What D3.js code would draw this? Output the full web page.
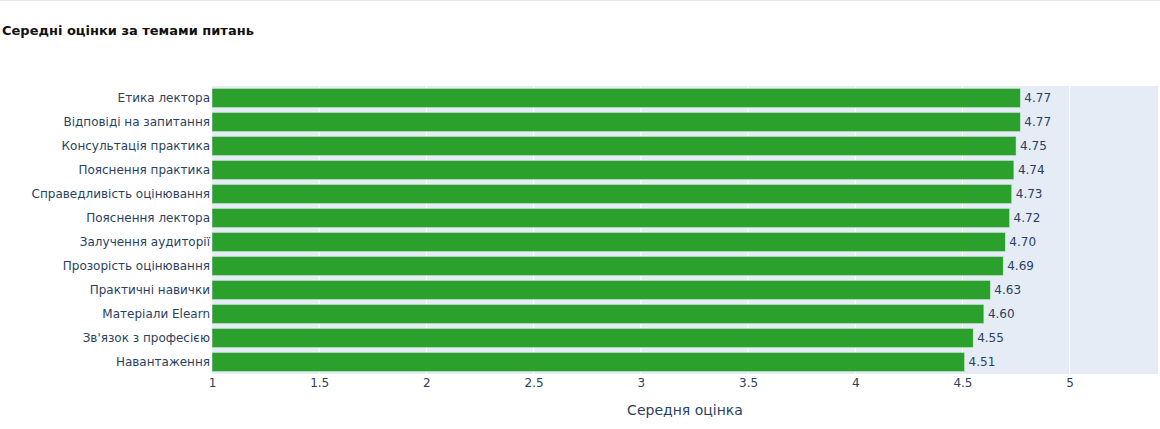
<!DOCTYPE html>
<html>
<head>
<meta charset="utf-8">
<script src="https://cdn.jsdelivr.net/npm/d3@7"></script>
<style>
  body { margin: 0; background: #fff; }
  svg { display: block; font-family: "DejaVu Sans", Verdana, sans-serif; }
</style>
</head>
<body>
<div id="chart"></div>
<script>
// data
const categories = ["Етика лектора", "Відповіді на запитання", "Консультація практика",
  "Пояснення практика", "Справедливість оцінювання", "Пояснення лектора",
  "Залучення аудиторії", "Прозорість оцінювання", "Практичні навички",
  "Матеріали Elearn", "Зв'язок з професією", "Навантаження"];
const scores = [4.77, 4.77, 4.75, 4.74, 4.73, 4.72, 4.70, 4.69, 4.63, 4.60, 4.55, 4.51];
const xTicks = [1, 1.5, 2, 2.5, 3, 3.5, 4, 4.5, 5];

const chartTitle = "Середні оцінки за темами питань";
const xTitle = "Середня оцінка";

// size & margins
var W = 1160, H = 429;
var margin = {top: 86, right: 2, bottom: 55, left: 212};
var width = W - margin.left - margin.right;
var height = H - margin.top - margin.bottom;

var svg = d3.select("#chart").append("svg")
  .attr("width", W)
  .attr("height", H);

// thin line at the very top
svg.append("line")
  .attr("x1", 0).attr("x2", W)
  .attr("y1", 0.5).attr("y2", 0.5)
  .attr("stroke", "#e8e8e8");

svg.append("text")
  .attr("x", 2)
  .attr("y", 35)
  .attr("font-size", 13)
  .attr("font-weight", "bold")
  .attr("fill", "#111")
  .text(chartTitle);

var g = svg.append("g")
  .attr("transform", "translate(" + margin.left + "," + margin.top + ")");

// scales
var xScale = d3.scaleLinear()
  .domain([1, 5.412])
  .range([0, width]);

var yScale = d3.scaleBand()
  .domain(categories)
  .range([0, height])
  .paddingInner(0.2)
  .paddingOuter(0.1);

// background
g.append("rect")
  .attr("width", width)
  .attr("height", height)
  .attr("fill", "#e5ecf6");

// grid
g.selectAll(".grid")
  .data(xTicks.slice(1))
  .enter().append("line")
  .attr("class", "grid")
  .attr("x1", d => xScale(d)).attr("x2", d => xScale(d))
  .attr("y1", 0).attr("y2", height)
  .attr("stroke", "#fff")
  .attr("stroke-width", 1);

// bars
g.selectAll(".bar")
  .data(scores)
  .enter().append("rect")
  .attr("class", "bar")
  .attr("x", xScale(1))
  .attr("y", (d, i) => yScale(categories[i]))
  .attr("width", d => xScale(d) - xScale(1))
  .attr("height", yScale.bandwidth())
  .attr("fill", "#2ca02c")
  .attr("stroke", "#e5ecf6")
  .attr("stroke-width", 0.5);

// value labels
g.selectAll(".val")
  .data(scores)
  .enter().append("text")
  .attr("class", "val")
  .attr("x", d => xScale(d) + 4)
  .attr("y", (d, i) => yScale(categories[i]) + yScale.bandwidth() / 2)
  .attr("dy", "0.35em")
  .attr("font-size", 12)
  .attr("fill", "#2a3f5f")
  .text(d => d.toFixed(2));

// y axis
var yAxis = g.append("g")
  .call(d3.axisLeft(yScale).tickSize(0).tickPadding(2));
yAxis.select(".domain").remove();
yAxis.selectAll("text")
  .attr("font-size", 12)
  .attr("font-family", "DejaVu Sans, Verdana, sans-serif")
  .attr("fill", "#2a3f5f");

// x axis
var xAxis = g.append("g")
  .attr("transform", "translate(0," + height + ")")
  .call(d3.axisBottom(xScale).tickValues(xTicks).tickFormat(d3.format("")).tickSize(0).tickPadding(4));
xAxis.select(".domain").remove();
xAxis.selectAll("text")
  .attr("font-size", 12)
  .attr("font-family", "DejaVu Sans, Verdana, sans-serif")
  .attr("fill", "#2a3f5f");

// axis title, centred on the plot area
svg.append("text")
  .attr("x", margin.left + width / 2)
  .attr("y", 415)
  .attr("text-anchor", "middle")
  .attr("font-size", 14)
  .attr("fill", "#2a3f5f")
  .text(xTitle);
</script>
</body>
</html>
